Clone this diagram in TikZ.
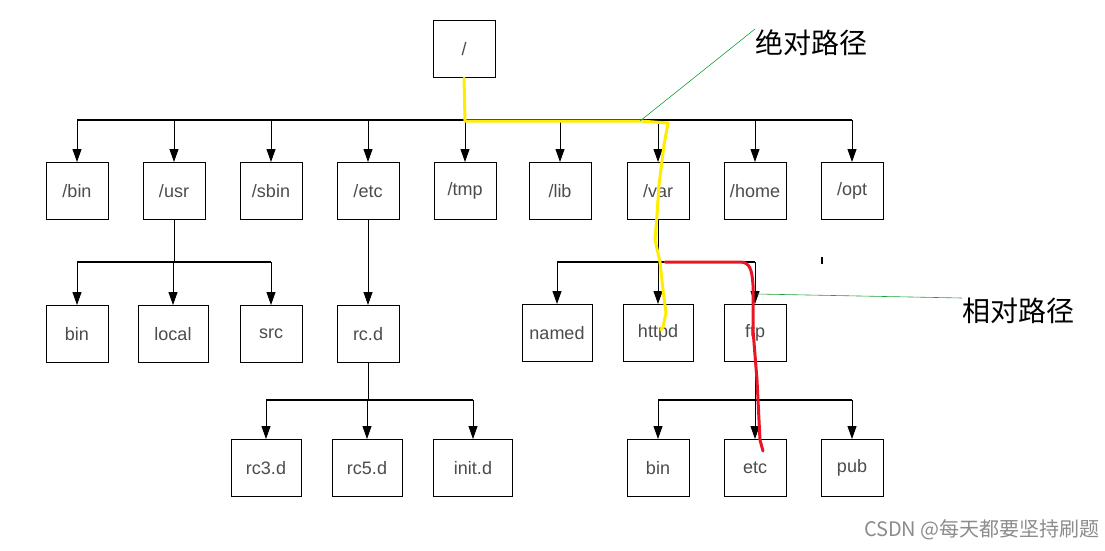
\documentclass[tikz,border=0pt]{standalone}
\usepackage{fontspec}
\setmainfont{Liberation Sans}
\newfontfamily\cjk{Noto Sans CJK SC}
\usetikzlibrary{arrows.meta,positioning}
\definecolor{hiyellow}{RGB}{255,236,0}
\definecolor{hired}{RGB}{232,22,36}
\definecolor{notegreen}{RGB}{30,160,60}

\begin{document}
\begin{tikzpicture}[
  x=1pt, y=-1pt,
  dir/.style={draw, line width=1pt, minimum width=62pt, minimum height=57pt, inner sep=0pt,
    font=\fontsize{18}{20}\selectfont, text=black!70},
  wide/.style={dir, minimum width=70pt},
  link/.style={-{Triangle[length=13pt,width=9pt]}, line width=0.9pt},
  bus/.style={line width=1.4pt},
  note/.style={draw=notegreen, line width=0.6pt},
  tag/.style={inner sep=0pt, anchor=north west, font=\cjk\fontsize{28}{30}\selectfont},
  inkpath/.style={line width=3pt, line cap=round, line join=round}
]
\useasboundingbox[fill=white] (0,0) rectangle (1105,550);

% root and first level
\node[dir] (root) at (464,49) {/};
\node[dir] (bin) at (77,191) {/bin};
\node[dir] (usr) at (174,191) {/usr};
\node[dir] (sbin) at (271,191) {/sbin};
\node[dir] (etc) at (368,191) {/etc};
\node[dir] (tmp) at (465,191) {/tmp};
\node[dir] (lib) at (560,191) {/lib};
\node[dir] (var) at (658,191) {/var};
\node[dir] (home) at (755,191) {/home};
\node[dir] (opt) at (852,191) {/opt};

% second level
\node[dir] (usrbin) at (77,334) {bin};
\node[wide] (local) at (173,334) {local};
\node[dir] (src) at (271,334) {src};
\node[dir] (rcd) at (368,334) {rc.d};
\node[wide] (named) at (557,333) {named};
\node[wide] (httpd) at (658,333) {httpd};
\node[dir] (ftp) at (755,333) {ftp};

% third level
\node[wide] (rcthree) at (266,468) {rc3.d};
\node[wide] (rcfive) at (367,468) {rc5.d};
\node[dir, minimum width=79pt] (initd) at (473,468) {init.d};
\node[dir] (ftpbin) at (658,468) {bin};
\node[dir] (ftpetc) at (755,468) {etc};
\node[dir] (pub) at (852,468) {pub};

% tree lines
\coordinate (topbus) at (464,120);
\draw[line width=0.9pt] (root) -- (topbus);
\draw[bus] (topbus -| bin) -- (topbus -| opt);
\foreach \d in {bin,usr,sbin,etc,tmp,lib,var,home,opt}
  \draw[link] (topbus -| \d) -- (\d);

\coordinate (usrbus) at (174,262);
\draw[line width=0.9pt] (usr) -- (usrbus);
\draw[bus] (usrbus -| usrbin) -- (usrbus -| src);
\foreach \d in {usrbin,local,src}
  \draw[link] (usrbus -| \d) -- (\d);

\draw[link] (etc) -- (rcd);

\coordinate (rcdbus) at (368,400);
\draw[line width=0.9pt] (rcd) -- (rcdbus);
\draw[bus] (rcdbus -| rcthree) -- (rcdbus -| initd);
\foreach \d in {rcthree,rcfive,initd}
  \draw[link] (rcdbus -| \d) -- (\d);

\coordinate (varbus) at (658,262);
\draw[line width=0.9pt] (var) -- (varbus);
\draw[bus] (varbus -| named) -- (varbus -| ftp);
\foreach \d in {named,httpd,ftp}
  \draw[link] (varbus -| \d) -- (\d);

\coordinate (ftpbus) at (755,400);
\draw[line width=0.9pt] (ftp) -- (ftpbus);
\draw[bus] (ftpbus -| ftpbin) -- (ftpbus -| pub);
\foreach \d in {ftpbin,ftpetc,pub}
  \draw[link] (ftpbus -| \d) -- (\d);

\draw[line width=1.5pt] (822,257) -- (822,264);

% hand drawn paths
\draw[inkpath, hiyellow] (root.south) -- (465,121) -- (640,121) -- (668,123)
  -- (664,145) -- (659,185) -- (657,215) -- (655,240) -- (660,262)
  -- (663,290) -- (666,313) -- (663,327) -- (661,330);
\draw[inkpath, hired] (665,262) -- (740,262) .. controls (750,262) and (752,270) .. (753,285)
  -- (753,330) -- (757,380) -- (759,420) -- (760,440) -- (763,451);

% labels
\node[tag] (abs) at (755,29) {绝对路径};
\node[tag] (rel) at (962,298) {相对路径};
\draw[note] (640,121) -- (abs.north west);
\draw[note] (757,294) -- (rel.north west);

\node[font=\cjk\fontsize{20}{22}\selectfont, text=black!45, anchor=east, inner sep=0pt] (wmark) at (1100,530) {CSDN @每天都要坚持刷题};
\end{tikzpicture}
\end{document}
